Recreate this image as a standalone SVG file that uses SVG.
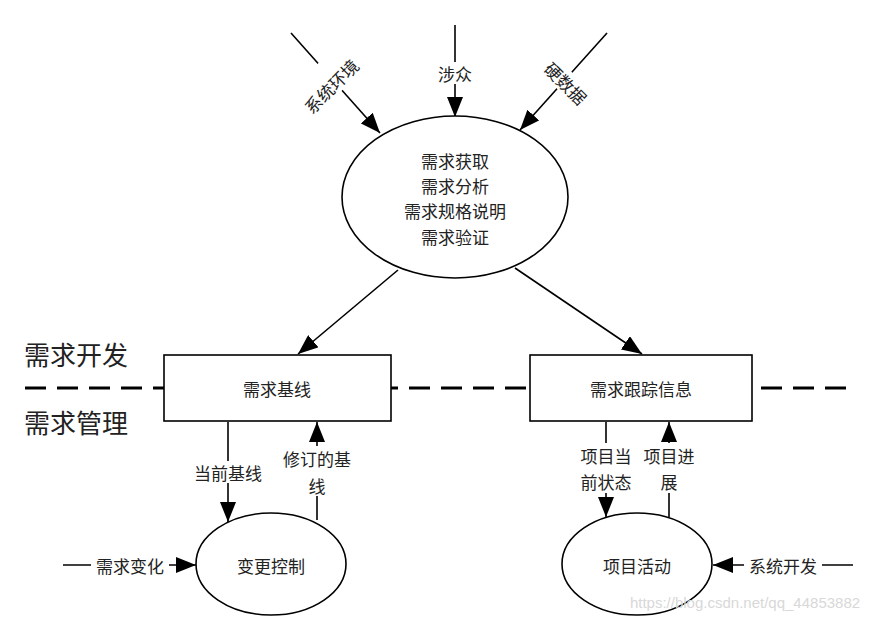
<svg xmlns="http://www.w3.org/2000/svg" width="879" height="626" viewBox="0 0 879 626">
<style>
.s{fill:none;stroke:#000;stroke-width:1.6}
.n{fill:#fff;stroke:#000;stroke-width:1.6}
.t{font-family:"Noto Sans CJK SC","Liberation Sans",sans-serif;font-size:17px;fill:#222;text-anchor:middle;dominant-baseline:central}
.big{font-size:26px;text-anchor:start}
.bg{fill:#fff}
.dash{stroke:#000;stroke-width:3;stroke-dasharray:21 11;fill:none}
</style>
<defs>
<marker id="a" viewBox="0 0 20 16" refX="20" refY="8" markerWidth="20" markerHeight="16" markerUnits="userSpaceOnUse" orient="auto">
<path d="M0,0 L20,8 L0,16 Z" fill="#000"/>
</marker>
</defs>
<g id="separator">
<line class="dash" x1="25" y1="388" x2="848" y2="388"/>
<text class="t big" x="24" y="353">需求开发</text>
<text class="t big" x="24" y="421">需求管理</text>
</g>
<g id="connectors">
<line class="s" x1="291" y1="33" x2="380" y2="133" marker-end="url(#a)"/>
<line class="s" x1="455" y1="25" x2="455" y2="117" marker-end="url(#a)"/>
<line class="s" x1="607" y1="33" x2="520" y2="130" marker-end="url(#a)"/>
<line class="s" x1="398" y1="270" x2="298" y2="354" marker-end="url(#a)"/>
<line class="s" x1="515" y1="268" x2="642" y2="354" marker-end="url(#a)"/>
<line class="s" x1="228" y1="422" x2="228" y2="522" marker-end="url(#a)"/>
<line class="s" x1="317" y1="520" x2="317" y2="422" marker-end="url(#a)"/>
<line class="s" x1="606" y1="422" x2="606" y2="517" marker-end="url(#a)"/>
<line class="s" x1="669" y1="517" x2="669" y2="422" marker-end="url(#a)"/>
<line class="s" x1="63" y1="565" x2="196" y2="565" marker-end="url(#a)"/>
<line class="s" x1="853" y1="565" x2="713" y2="565" marker-end="url(#a)"/>
<rect class="bg" x="298" y="58" width="66" height="36" transform="rotate(-45 331 76)"/>
<text class="t" x="331" y="86" transform="rotate(-45 331 86)">系统环境</text>
<rect class="bg" x="435" y="62" width="40" height="22"/>
<text class="t" x="455" y="73">涉众</text>
<rect class="bg" x="541" y="72" width="52" height="22" transform="rotate(45 567 83)"/>
<text class="t" x="566" y="83" transform="rotate(45 566 83)">硬数据</text>
<rect class="bg" x="190" y="461" width="76" height="22"/>
<text class="t" x="228" y="472">当前基线</text>
<rect class="bg" x="278" y="446" width="78" height="50"/>
<text class="t" x="317" y="458">修订的基</text>
<text class="t" x="317" y="485">线</text>
<rect class="bg" x="578" y="443" width="56" height="50"/>
<text class="t" x="606" y="455">项目当</text>
<text class="t" x="606" y="481">前状态</text>
<rect class="bg" x="641" y="443" width="56" height="50"/>
<text class="t" x="669" y="455">项目进</text>
<text class="t" x="669" y="481">展</text>
<rect class="bg" x="91" y="554" width="78" height="22"/>
<text class="t" x="130" y="565">需求变化</text>
<rect class="bg" x="744" y="554" width="78" height="22"/>
<text class="t" x="783" y="565">系统开发</text>
</g>
<g id="n_req_dev">
<ellipse class="n" cx="455" cy="197" rx="113" ry="81"/>
<text class="t" x="455" y="160">需求获取</text>
<text class="t" x="455" y="185">需求分析</text>
<text class="t" x="455" y="210">需求规格说明</text>
<text class="t" x="455" y="236">需求验证</text>
</g>
<g id="n_baseline">
<rect class="n" x="164" y="355" width="227" height="66"/>
<text class="t" x="277" y="388">需求基线</text>
</g>
<g id="n_trace">
<rect class="n" x="530" y="355" width="222" height="66"/>
<text class="t" x="641" y="388">需求跟踪信息</text>
</g>
<g id="n_change">
<ellipse class="n" cx="271" cy="564" rx="75" ry="51"/>
<text class="t" x="271" y="565">变更控制</text>
</g>
<g id="n_activity">
<ellipse class="n" cx="637" cy="564" rx="75" ry="51"/>
<text class="t" x="637" y="565">项目活动</text>
</g>
<text x="745" y="608" style="font-family:'Liberation Sans',sans-serif;font-size:15px;fill:#d8d8d8;text-anchor:middle">https://blog.csdn.net/qq_44853882</text>
</svg>
